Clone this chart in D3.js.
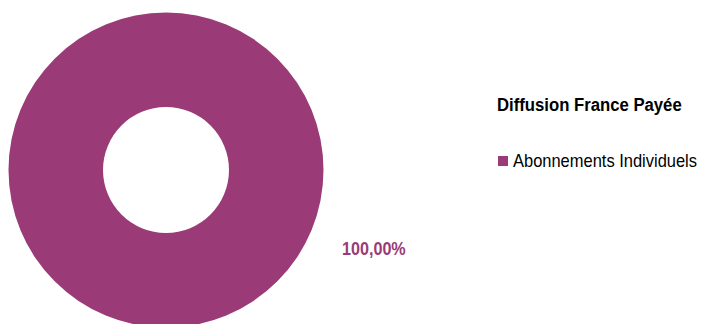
<!DOCTYPE html>
<html><head><meta charset="utf-8">
<script src="https://cdn.jsdelivr.net/npm/d3@7"></script>
<style>
body{margin:0;background:#fff;}
text{font-family:"Liberation Sans",Arial,sans-serif;}
</style></head>
<body><svg id="c" width="703" height="324"></svg>
<script>
const categories = ["Abonnements Individuels"];
const values = [100];
const labels = ["100,00%"];
const title = "Diffusion France Payée";
const colors = ["#9a3b78"];

const svg = d3.select("#c");
const cx = 166, cy = 170, rOuter = 157.5, rInner = 63;
const pie = d3.pie().sort(null).value(d => d)(values);
const arc = d3.arc().innerRadius(rInner).outerRadius(rOuter);
const g = svg.append("g").attr("transform", `translate(${cx},${cy})`);
g.selectAll("path").data(pie).enter().append("path")
  .attr("d", arc).attr("fill", (d,i) => colors[i]);

// narrow text helper: place at (x,y) and squeeze horizontally
function narrow(sel, x, y, sx){
  return sel.attr("transform", `translate(${x},${y}) scale(${sx},1)`);
}

svg.selectAll("text.lab").data(labels).enter().append("text")
  .attr("class","lab")
  .call(narrow, 342, 255, 0.85)
  .attr("font-weight","bold").attr("font-size", 19)
  .attr("fill", colors[0]).text(d => d);

svg.append("text")
  .call(narrow, 497, 111, 0.88)
  .attr("font-weight","bold").attr("font-size", 19).attr("fill","#000")
  .text(title);

const leg = svg.selectAll("g.leg").data(categories).enter().append("g").attr("class","leg")
  .attr("transform",(d,i)=>`translate(498,${156 + i*22})`);
leg.append("rect").attr("width",10).attr("height",10).attr("fill",(d,i)=>colors[i]);
leg.append("text").call(narrow, 15, 11, 0.915)
  .attr("font-size",18).attr("fill","#000").text(d=>d);
</script></body></html>
